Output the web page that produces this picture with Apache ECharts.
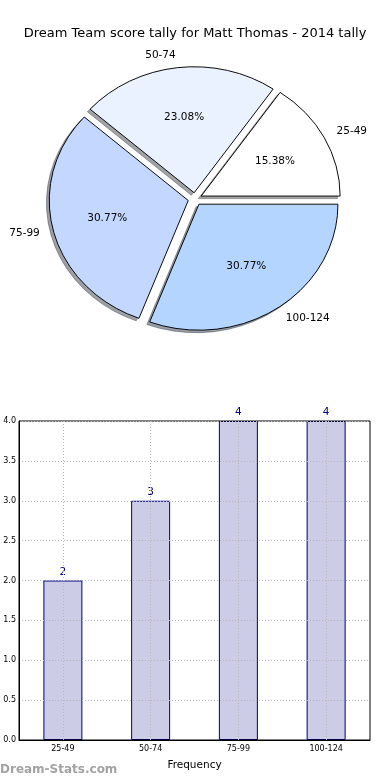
<!DOCTYPE html>
<html>
<head>
<meta charset="utf-8">
<script src="https://cdn.jsdelivr.net/npm/echarts@6/dist/echarts.min.js"></script>
<style>html,body{margin:0;padding:0;background:#fff}#c{width:390px;height:780px}</style>
</head>
<body>
<div id="c"></div>
<script>
var titleText = 'Dream Team score tally for Matt Thomas - 2014 tally';
var categories = ['25-49', '50-74', '75-99', '100-124'];
var counts = [2, 3, 4, 4];
var pieColors = ['#ffffff', '#eaf1ff', '#c4d8ff', '#b3d5ff'];
var yTicks = [0, 0.5, 1, 1.5, 2, 2.5, 3, 3.5, 4];

var FONT = 'DejaVu Sans';
var PC = {cx: 195, cy: 199, rx: 139, ry: 126, explode: 0.05};
var total = counts.reduce(function (a, b) { return a + b; }, 0);

function hexToRgb(h) {
  return [parseInt(h.substr(1, 2), 16), parseInt(h.substr(3, 2), 16), parseInt(h.substr(5, 2), 16)];
}

function renderPie(params, api) {
  var i = params.dataIndex;
  var before = 0;
  for (var k = 0; k < i; k++) before += counts[k];
  var v = api.value(0);
  var a0 = before / total * 2 * Math.PI;
  var a1 = (before + v) / total * 2 * Math.PI;
  var am = (a0 + a1) / 2;
  var c = Math.cos(am), s = Math.sin(am);
  var ox = PC.cx + PC.explode * PC.rx * c;
  var oy = PC.cy - PC.explode * PC.ry * s;
  var sy = PC.ry / PC.rx;
  var rgb = hexToRgb(pieColors[i]);
  var shCol = 'rgba(' + Math.round(rgb[0] * 0.3) + ',' + Math.round(rgb[1] * 0.3) + ',' + Math.round(rgb[2] * 0.3) + ',0.5)';
  var sectorShape = {cx: 0, cy: 0, r: PC.rx, r0: 0, startAngle: -a0, endAngle: -a1, clockwise: false};
  var pct = (v / total * 100).toFixed(2) + '%';
  var lx = ox + 1.1 * PC.rx * c;
  var ly = oy - 1.1 * PC.ry * s;
  return {
    type: 'group',
    children: [
      {
        type: 'sector', shape: sectorShape,
        x: ox - 0.02 * PC.rx, y: oy + 0.02 * PC.ry, scaleY: sy, z2: 0,
        style: {fill: shCol, stroke: shCol, lineWidth: 1, strokeNoScale: true}
      },
      {
        type: 'sector', shape: sectorShape,
        x: ox, y: oy, scaleY: sy, z2: 5,
        style: {fill: pieColors[i], stroke: '#000', lineWidth: 1, strokeNoScale: true}
      },
      {
        type: 'text', z2: 10,
        x: ox + 0.6 * PC.rx * c, y: oy - 0.6 * PC.ry * s,
        style: {text: pct, fill: '#000', font: '10.5px "' + FONT + '"', align: 'center', verticalAlign: 'middle'}
      },
      {
        type: 'text', z2: 10,
        x: lx, y: ly,
        style: {text: categories[i], fill: '#000', font: '10.5px "' + FONT + '"', align: c >= 0 ? 'left' : 'right', verticalAlign: 'middle'}
      }
    ]
  };
}

var chart = echarts.init(document.getElementById('c'), null, {renderer: 'canvas'});
var gridLine = {show: true, lineStyle: {color: '#b5b5b5', type: [1, 2], width: 1}};
chart.setOption({
  animation: false,
  backgroundColor: '#fff',
  textStyle: {fontFamily: FONT},
  title: {
    text: titleText, left: 'center', top: 22,
    textStyle: {fontFamily: FONT, fontSize: 13, fontWeight: 'normal', color: '#000'}
  },
  graphic: [{
    type: 'text', left: 0, top: 764,
    style: {text: 'Dream-Stats.com', fill: '#a3a3a3', font: 'bold 12px "' + FONT + '"'}
  }],
  grid: {left: 19, right: 20, top: 421, bottom: 40, show: true, borderColor: '#000', borderWidth: 1, backgroundColor: 'transparent', z: 4},
  xAxis: {
    type: 'category', data: categories, z: 4,
    axisLine: {show: true, lineStyle: {color: '#000'}},
    axisTick: {show: false},
    axisLabel: {fontSize: 8, color: '#000', margin: 5, fontFamily: FONT},
    name: 'Frequency', nameLocation: 'middle', nameGap: 20,
    nameTextStyle: {fontSize: 10.5, color: '#000', fontFamily: FONT},
    splitLine: {show: false}
  },
  yAxis: {
    type: 'value', min: 0, max: 4, interval: 0.5, z: 4,
    axisLine: {show: true, lineStyle: {color: '#000'}},
    axisTick: {show: false},
    axisLabel: {fontSize: 8, color: '#000', margin: 3, fontFamily: FONT, formatter: function (v) { return v.toFixed(1); }},
    splitLine: gridLine
  },
  series: [
    {
      type: 'custom', coordinateSystem: 'none',
      data: counts.map(function (v) { return [v]; }),
      renderItem: renderPie, silent: true, z: 2
    },
    {
      type: 'bar', data: counts, barWidth: 39, z: 2,
      itemStyle: {color: '#ccccE6', borderColor: '#000080', borderWidth: 1},
      label: {show: true, position: 'top', distance: 3, color: '#000080', fontSize: 10.5, fontFamily: FONT},
      markLine: {
        silent: true, symbol: 'none', z: 5,
        label: {show: false},
        lineStyle: {color: '#b5b5b5', type: [1, 2], width: 1},
        data: categories.map(function (c) { return {xAxis: c}; })
      }
    }
  ]
});
</script>
</body>
</html>
